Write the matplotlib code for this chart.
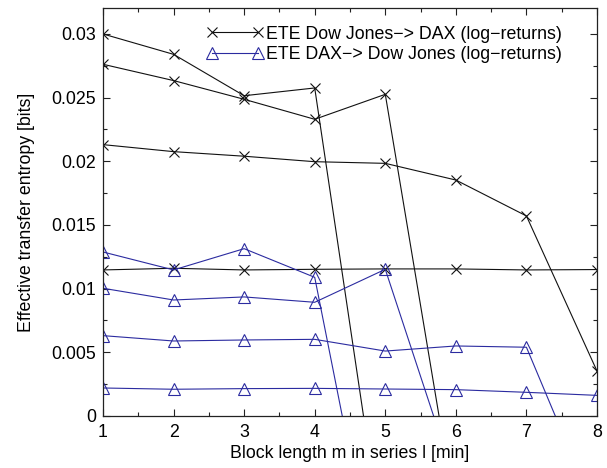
import matplotlib
matplotlib.use("Agg")
import matplotlib.pyplot as plt
from matplotlib.ticker import MultipleLocator

plt.rcParams['font.family'] = ['Liberation Sans', 'DejaVu Sans']

# ETE Dow Jones -> DAX (black, x markers)
dj_dax_x = [[1, 2, 3, 4, 5],
            [1, 2, 3, 4, 5, 6],
            [1, 2, 3, 4, 5, 6, 7, 8],
            [1, 2, 3, 4, 5, 6, 7, 8]]
dj_dax_y = [[0.0300, 0.0284, 0.02515, 0.02576, -0.0115],
            [0.02762, 0.02634, 0.02487, 0.0233, 0.02526, -0.0079],
            [0.02131, 0.02076, 0.0204, 0.01997, 0.01984, 0.01853, 0.01571, 0.00353],
            [0.01147, 0.0116, 0.01147, 0.01152, 0.01155, 0.01155, 0.01147, 0.0115]]

# ETE DAX -> Dow Jones (blue, triangle markers)
dax_dj_x = [[1, 2, 3, 4, 5],
            [1, 2, 3, 4, 5, 6],
            [1, 2, 3, 4, 5, 6, 7, 8],
            [1, 2, 3, 4, 5, 6, 7, 8]]
dax_dj_y = [[0.01288, 0.01147, 0.01314, 0.01089, -0.0170],
            [0.01003, 0.00911, 0.00935, 0.00893, 0.01152, -0.0053],
            [0.00631, 0.00589, 0.00597, 0.00602, 0.0051, 0.0055, 0.0054, -0.0078],
            [0.0022, 0.0021, 0.00215, 0.00217, 0.00212, 0.00207, 0.00186, 0.00162]]

labels = ["ETE Dow Jones\u2212> DAX (log\u2212returns)",
          "ETE DAX\u2212> Dow Jones (log\u2212returns)"]

yticks = [0, 0.005, 0.01, 0.015, 0.02, 0.025, 0.03]
yticklabels = ['0', '0.005', '0.01', '0.015', '0.02', '0.025', '0.03']

black = '#111111'
blue = '#2b2ba0'
fs = 12.8

fig = plt.figure(figsize=(6.07, 4.68), dpi=100)
ax = fig.add_axes([103/607, 1-416/468, (597-103)/607, (416-8.5)/468])

for i, (xs, ys) in enumerate(zip(dj_dax_x, dj_dax_y)):
    ax.plot(xs, ys, color=black, lw=0.8, marker='x', ms=6.5, mew=0.8,
            label=labels[0] if i == 0 else None)
for i, (xs, ys) in enumerate(zip(dax_dj_x, dax_dj_y)):
    ax.plot(xs, ys, color=blue, lw=0.8, marker='^', ms=8.5, mew=0.8,
            mfc='none', mec=blue, label=labels[1] if i == 0 else None)

ax.set_xlim(1, 8)
ax.set_ylim(0, 0.032)
ax.xaxis.set_major_locator(MultipleLocator(1))
ax.xaxis.set_minor_locator(MultipleLocator(0.5))
ax.yaxis.set_minor_locator(MultipleLocator(0.0025))
ax.set_yticks(yticks)
ax.set_yticklabels(yticklabels)
ax.tick_params(which='both', direction='in', top=True, right=True, labelsize=fs, color='#222222')
ax.tick_params(which='major', length=5, width=0.8, pad=5)
ax.tick_params(axis='x', which='major', pad=6)
ax.tick_params(which='minor', length=3, width=0.8)
for s in ax.spines.values():
    s.set_linewidth(0.9)
    s.set_color('#222222')

ax.set_xlabel("Block length m in series l [min]", fontsize=fs, labelpad=3)
ax.set_ylabel("Effective transfer entropy [bits]", fontsize=fs, labelpad=12)

leg = ax.legend(loc='upper left', bbox_to_anchor=(0.210, 0.958), frameon=False,
                fontsize=fs, handlelength=3.2, numpoints=2, handletextpad=0.15,
                labelspacing=0.21, borderaxespad=0, borderpad=0)

fig.savefig("out.png", dpi=100)
